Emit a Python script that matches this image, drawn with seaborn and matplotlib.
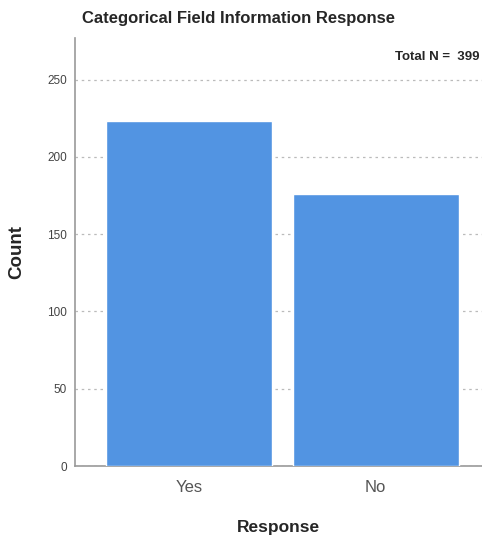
import seaborn as sns
import matplotlib.pyplot as plt
import pandas as pd

# values
responses = ["Yes", "No"]
counts = [223, 176]
y_ticks = [0, 50, 100, 150, 200, 250]

df = pd.DataFrame({"Response": responses, "Count": counts})

sns.set_style("white")
plt.rcParams["font.family"] = ["Liberation Sans", "DejaVu Sans"]

fig = plt.figure(figsize=(4.82, 5.4), dpi=100)
ax = fig.add_axes([0.156, 0.137, 0.844, 0.793])

sns.barplot(data=df, x="Response", y="Count", color="#5294e2", saturation=1,
            width=0.89, ax=ax, zorder=3)

ax.set_xlim(-0.61, 1.57)
ax.set_ylim(0, 277)
ax.set_yticks(y_ticks)
ax.yaxis.grid(True, linestyle=(0, (2, 3)), color="#bbbbbb", linewidth=0.9, zorder=0)
ax.set_axisbelow(True)

for side in ["top", "right"]:
    ax.spines[side].set_visible(False)
for side in ["left", "bottom"]:
    ax.spines[side].set_color("#999999")
    ax.spines[side].set_linewidth(1.2)

ax.tick_params(axis="y", length=0, labelsize=8.5, labelcolor="#444444", pad=6)
ax.tick_params(axis="x", length=0, labelsize=12, labelcolor="#555555", pad=10)

ax.set_ylabel("Count", fontsize=13.5, fontweight="bold")
ax.yaxis.set_label_coords(-(75 - 25) / 407, 0.5)
ax.set_xlabel("Response", fontsize=12.5, fontweight="bold", labelpad=18)

fig.text(82 / 482, 1 - 18 / 540, "Categorical Field Information Response",
         fontsize=12, fontweight="bold", ha="left", va="center")
ax.text(0.995, 0.955, f"Total N =  {sum(counts)}", transform=ax.transAxes,
        fontsize=9.5, fontweight="bold", ha="right", va="center")

fig.savefig("out.png", dpi=100)
